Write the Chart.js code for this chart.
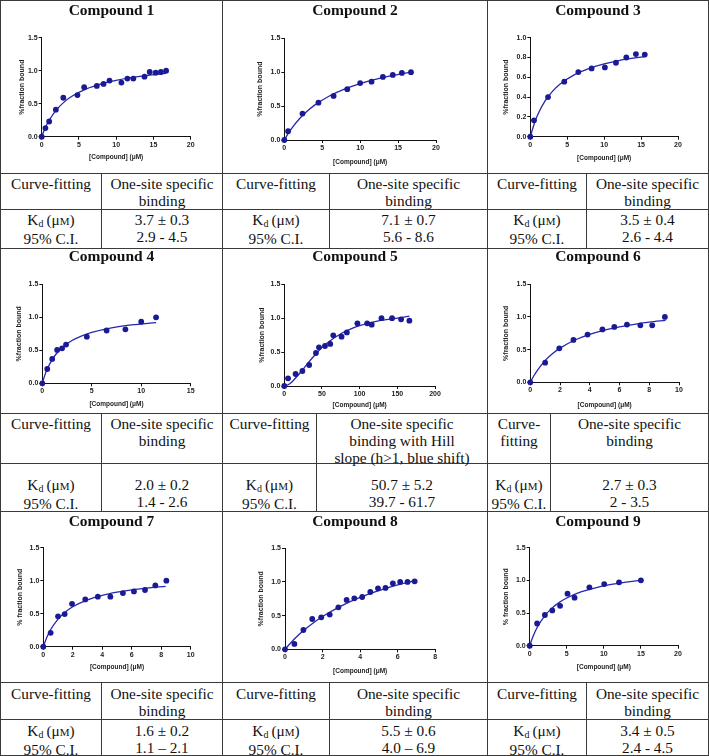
<!DOCTYPE html>
<html>
<head>
<meta charset="utf-8">
<script src="https://cdn.jsdelivr.net/npm/chart.js@4.4.0/dist/chart.umd.min.js"></script>
<style>
  body { margin: 0; background: #fff; }
  #page { position: relative; width: 709px; height: 756px; overflow: hidden; font-family: "Liberation Serif", "Times New Roman", serif; color: #111; }
  .hl { position: absolute; height: 1px; background: #3a3a3a; }
  .vl { position: absolute; width: 1px; background: #3a3a3a; }
  .ttl { position: absolute; font-weight: bold; font-size: 15.5px; line-height: 18px; text-align: center; z-index: 2; }
  .cell { position: absolute; text-align: center; font-size: 15.3px; line-height: 17px; white-space: nowrap; }
  .cell sub { font-size: 0.65em; line-height: 0; vertical-align: -0.2em; }
  .cell small { font-size: 0.72em; }
  canvas { position: absolute; }
</style>
</head>
<body>
<div id="page"></div>
<script>
// titles and table text
const compounds = ["Compound 1", "Compound 2", "Compound 3", "Compound 4", "Compound 5", "Compound 6", "Compound 7", "Compound 8", "Compound 9"];
const fitLabel = ["Curve-fitting", "Curve-fitting", "Curve-fitting", "Curve-fitting", "Curve-fitting", "Curve-<br>fitting", "Curve-fitting", "Curve-fitting", "Curve-fitting"];
const fitModel = [
  "One-site specific<br>binding", "One-site specific<br>binding", "One-site specific<br>binding",
  "One-site specific<br>binding", "One-site specific<br>binding with Hill<br>slope (h&gt;1, blue shift)", "One-site specific<br>binding",
  "One-site specific<br>binding", "One-site specific<br>binding", "One-site specific<br>binding"
];
const kdValues = ["3.7 ± 0.3", "7.1 ± 0.7", "3.5 ± 0.4", "2.0 ± 0.2", "50.7 ± 5.2", "2.7 ± 0.3", "1.6 ± 0.2", "5.5 ± 0.6", "3.4 ± 0.5"];
const ciValues = ["2.9 - 4.5", "5.6 - 8.6", "2.6 - 4.4", "1.4 - 2.6", "39.7 - 61.7", "2 - 3.5", "1.1 – 2.1", "4.0 – 6.9", "2.4 - 4.5"];

// axes
const xMax = [20, 20, 20, 15, 200, 10, 10, 8, 20];
const xStep = [5, 5, 5, 5, 50, 2, 2, 2, 5];
const yMax = [1.5, 1.5, 1.0, 1.5, 1.5, 1.5, 1.5, 1.5, 1.5];
const yStep = [0.5, 0.5, 0.2, 0.5, 0.5, 0.5, 0.5, 0.5, 0.5];
const yTitles = ["%fraction bound", "%fraction bound", "%fraction bound", "%fraction bound", "%fraction bound", "%fraction bound", "% fraction bound", "%fraction bound", "% fraction bound"];
const xTitle = "[Compound] (μM)";

// measured points (x = concentration, y = fraction bound)
const c1x = [0, 0.5, 1.0, 1.9, 2.9, 4.8, 5.7, 7.4, 8.3, 9.1, 10.7, 11.5, 12.3, 13.8, 14.5, 15.3, 16.0, 16.7];
const c1y = [0, 0.13, 0.23, 0.41, 0.59, 0.63, 0.75, 0.77, 0.80, 0.85, 0.82, 0.88, 0.88, 0.91, 0.98, 0.97, 0.98, 1.00];
const c2x = [0, 0.5, 2.4, 4.5, 6.5, 8.3, 10.0, 11.5, 13.0, 14.3, 15.5, 16.7];
const c2y = [0, 0.13, 0.39, 0.55, 0.65, 0.75, 0.84, 0.86, 0.93, 0.96, 0.99, 1.00];
const c3x = [0, 0.5, 2.4, 4.6, 6.5, 8.3, 10.1, 11.6, 13.0, 14.3, 15.5];
const c3y = [0, 0.165, 0.40, 0.556, 0.653, 0.69, 0.70, 0.747, 0.80, 0.835, 0.83];
const c4x = [0, 0.5, 1.0, 1.5, 2.0, 2.4, 4.5, 6.5, 8.4, 10.0, 11.5];
const c4y = [0, 0.217, 0.37, 0.505, 0.53, 0.586, 0.707, 0.80, 0.818, 0.934, 1.0];
const c5x = [0, 5, 15, 24, 33, 42, 46, 54, 61, 65, 76, 83, 97, 110, 116, 129, 143, 155, 166];
const c5y = [0, 0.113, 0.177, 0.221, 0.31, 0.487, 0.57, 0.59, 0.62, 0.748, 0.728, 0.79, 0.925, 0.925, 0.905, 1.0, 1.0, 0.984, 0.964];
const c6x = [0, 1.0, 1.95, 2.9, 3.85, 4.85, 5.65, 6.5, 7.4, 8.2, 9.05];
const c6y = [0, 0.30, 0.52, 0.648, 0.73, 0.81, 0.847, 0.883, 0.872, 0.872, 1.0];
const c7x = [0, 0.5, 1.0, 1.45, 1.95, 2.85, 3.7, 4.55, 5.4, 6.15, 6.9, 7.6, 8.35];
const c7y = [0, 0.21, 0.46, 0.495, 0.65, 0.717, 0.758, 0.758, 0.813, 0.838, 0.859, 0.929, 1.0];
const c8x = [0, 0.5, 0.98, 1.45, 1.93, 2.38, 2.84, 3.28, 3.69, 4.11, 4.54, 4.95, 5.35, 5.74, 6.13, 6.52, 6.9];
const c8y = [0, 0.08, 0.287, 0.45, 0.475, 0.515, 0.624, 0.733, 0.757, 0.777, 0.851, 0.906, 0.911, 0.98, 1.0, 1.0, 1.01];
const c9x = [0, 1.0, 2.05, 3.05, 4.1, 5.1, 6.05, 8.05, 10.05, 12.05, 15.0];
const c9y = [0, 0.34, 0.47, 0.54, 0.61, 0.796, 0.735, 0.893, 0.944, 0.97, 1.0];

// fitted curves
const f1x = [0, 0.5, 1, 2, 3, 4, 6, 8, 10, 12, 14, 16.7];
const f1y = [0, 0.139, 0.249, 0.411, 0.524, 0.608, 0.724, 0.80, 0.854, 0.894, 0.925, 0.958];
const f2x = [0, 0.5, 1, 2, 3, 4, 6, 8, 10, 12, 14, 16.7];
const f2y = [0, 0.094, 0.176, 0.313, 0.423, 0.514, 0.653, 0.755, 0.833, 0.895, 0.945, 1.0];
const f3x = [0, 0.5, 1, 2, 3, 4, 6, 8, 10, 12, 14, 15.5];
const f3y = [0, 0.124, 0.221, 0.361, 0.458, 0.53, 0.627, 0.691, 0.736, 0.769, 0.794, 0.81];
const f4x = [0, 0.25, 0.5, 1, 1.5, 2, 3, 4, 5, 7, 9, 11.5];
const f4y = [0, 0.12, 0.216, 0.36, 0.463, 0.54, 0.648, 0.72, 0.771, 0.84, 0.884, 0.92];
const f5x = [0, 5, 10, 20, 30, 40, 50, 60, 75, 90, 100, 125, 150, 166];
const f5y = [0, 0.018, 0.06, 0.18, 0.32, 0.45, 0.57, 0.66, 0.77, 0.85, 0.89, 0.96, 1.0, 1.03];
const f6x = [0, 0.25, 0.5, 1, 1.5, 2, 3, 4, 5, 6, 7, 8, 9.1];
const f6y = [0, 0.104, 0.192, 0.332, 0.439, 0.523, 0.647, 0.734, 0.799, 0.848, 0.888, 0.92, 0.948];
const f7x = [0, 0.25, 0.5, 1, 1.5, 2, 3, 4, 5, 6, 7, 8.3];
const f7y = [0, 0.147, 0.26, 0.419, 0.527, 0.606, 0.711, 0.779, 0.826, 0.861, 0.887, 0.914];
const f8x = [0, 0.5, 1, 1.5, 2, 3, 4, 5, 6, 6.9];
const f8y = [0, 0.153, 0.282, 0.392, 0.488, 0.646, 0.771, 0.871, 0.955, 1.018];
const f9x = [0, 0.25, 0.5, 1, 2, 3, 4, 5, 7, 9, 11, 13, 15];
const f9y = [0, 0.084, 0.157, 0.279, 0.454, 0.575, 0.663, 0.73, 0.826, 0.89, 0.937, 0.973, 1.0];

const pointsX = [c1x, c2x, c3x, c4x, c5x, c6x, c7x, c8x, c9x];
const pointsY = [c1y, c2y, c3y, c4y, c5y, c6y, c7y, c8y, c9y];
const fitX = [f1x, f2x, f3x, f4x, f5x, f6x, f7x, f8x, f9x];
const fitY = [f1y, f2y, f3y, f4y, f5y, f6y, f7y, f8y, f9y];

// page layout
const colEdges = [0, 222, 487, 708];
const subEdges = [[101, 329, 586], [101, 316, 550], [101, 329, 586]];
const rowTops = [0, 248, 511];        // chart cell top line
const headTops = [173, 413, 682];     // table header line
const valTops = [209, 463, 719];      // value row line
const rowBottom = [248, 511, 755];
const titleCenters = [10, 256, 520.5];
const headTextTop = [174.5, 414.5, 684.5];
const valTextTop = [210.5, 475.5, 722];
// plot area per panel: left, top, right, bottom, y-title x, x-title y
const plotBoxes = [
  [41.7, 37.7, 190.7, 136.7, 21.7, 157.3],
  [284.3, 38.3, 436, 140, 260, 162.3],
  [530.3, 37.7, 678, 136.7, 506, 158],
  [42.3, 284.3, 190.7, 383.3, 19.3, 404],
  [284.3, 284.3, 435, 386, 261.7, 405],
  [530.3, 284.3, 679, 382.3, 506, 405],
  [43.3, 547.7, 190.7, 646.7, 20, 667],
  [285, 548.3, 435.3, 649.3, 261, 671.7],
  [529.7, 547.7, 678, 645.7, 506, 667]
];

const dotColor = "#1a1a94";
const lineColor = "#2626b0";
const axisFont = "'Liberation Sans', Arial, sans-serif";

const page = document.getElementById("page");

function addDiv(cls, style, html) {
  const d = document.createElement("div");
  d.className = cls;
  Object.assign(d.style, style);
  if (html) d.innerHTML = html;
  page.appendChild(d);
  return d;
}

// grid lines
[0, 173, 209, 248, 413, 463, 511, 682, 719, 755].forEach(function (y) {
  addDiv("hl", { left: "0px", top: y + "px", width: "709px" });
});
colEdges.forEach(function (x) {
  addDiv("vl", { left: x + "px", top: "0px", height: "756px" });
});
for (let r = 0; r < 3; r++) {
  subEdges[r].forEach(function (x) {
    addDiv("vl", { left: x + "px", top: headTops[r] + "px", height: (rowBottom[r] - headTops[r]) + "px" });
  });
}

function makePanel(i) {
  const r = Math.floor(i / 3);
  const c = i % 3;
  const left = colEdges[c] + 1;
  const right = colEdges[c + 1];
  const top = rowTops[r] + 1;
  const bottom = headTops[r];
  const box = plotBoxes[i];

  addDiv("ttl", { left: left + "px", width: (right - left) + "px", top: (titleCenters[r] - 9) + "px" }, compounds[i]);

  // table cells
  const sub = subEdges[r][c];
  addDiv("cell", { left: left + "px", width: (sub - left) + "px", top: headTextTop[r] + "px" }, fitLabel[i]);
  addDiv("cell", { left: (sub + 1) + "px", width: (right - sub - 1) + "px", top: headTextTop[r] + "px" }, fitModel[i]);
  addDiv("cell", { left: left + "px", width: (sub - left) + "px", top: valTextTop[r] + "px" },
    "K<sub>d</sub>&#8201;(μ<small>M</small>)<br>95% C.I.");
  addDiv("cell", { left: (sub + 1) + "px", width: (right - sub - 1) + "px", top: valTextTop[r] + "px" },
    kdValues[i] + "<br>" + ciValues[i]);

  const cv = document.createElement("canvas");
  const w = right - left;
  const h = bottom - top;
  cv.width = w;
  cv.height = h;
  cv.style.left = left + "px";
  cv.style.top = top + "px";
  cv.style.width = w + "px";
  cv.style.height = h + "px";
  page.appendChild(cv);

  const pts = pointsX[i].map(function (x, k) { return { x: x, y: pointsY[i][k] }; });
  const fit = fitX[i].map(function (x, k) { return { x: x, y: fitY[i][k] }; });

  new Chart(cv, {
    type: "scatter",
    data: {
      datasets: [
        {
          data: fit,
          showLine: true,
          borderColor: lineColor,
          borderWidth: 1.3,
          pointRadius: 0,
          cubicInterpolationMode: "monotone",
          clip: false,
          order: 2
        },
        {
          data: pts,
          pointRadius: 2.9,
          pointBackgroundColor: dotColor,
          pointBorderWidth: 0,
          clip: false,
          order: 1
        }
      ]
    },
    options: {
      responsive: false,
      animation: false,
      devicePixelRatio: 1,
      layout: { padding: { left: 0, top: box[1] - top, right: right - box[2], bottom: 0 } },
      plugins: { legend: { display: false }, tooltip: { enabled: false } },
      scales: {
        x: {
          type: "linear",
          min: 0,
          max: xMax[i],
          afterFit: function (s) { s.height = bottom - box[3]; },
          ticks: { stepSize: xStep[i], autoSkip: false, maxRotation: 0, padding: 1, color: "#222",
            font: { family: axisFont, size: 7, weight: "bold" } },
          grid: { display: true, drawOnChartArea: false, drawTicks: true, tickLength: 3, color: "#111" },
          border: { display: true, color: "#111", width: 1 },
          title: { display: true, text: xTitle, color: "#222",
            font: { family: axisFont, size: 6.5, weight: "bold" },
            padding: { top: 0, bottom: bottom - box[5] - 3.9 } }
        },
        y: {
          type: "linear",
          min: 0,
          max: yMax[i],
          afterFit: function (s) { s.width = box[0] - left; },
          ticks: { stepSize: yStep[i], padding: 1, color: "#222",
            font: { family: axisFont, size: 7, weight: "bold" },
            callback: function (v) { return Number(v).toFixed(1); } },
          grid: { display: true, drawOnChartArea: false, drawTicks: true, tickLength: 3, color: "#111" },
          border: { display: true, color: "#111", width: 1 },
          title: { display: true, text: yTitles[i], color: "#222",
            font: { family: axisFont, size: 7, weight: "bold" },
            padding: { top: box[4] - left - 4.2, bottom: 0 } }
        }
      }
    }
  });
}

for (let i = 0; i < 9; i++) {
  makePanel(i);
}
</script>
</body>
</html>
